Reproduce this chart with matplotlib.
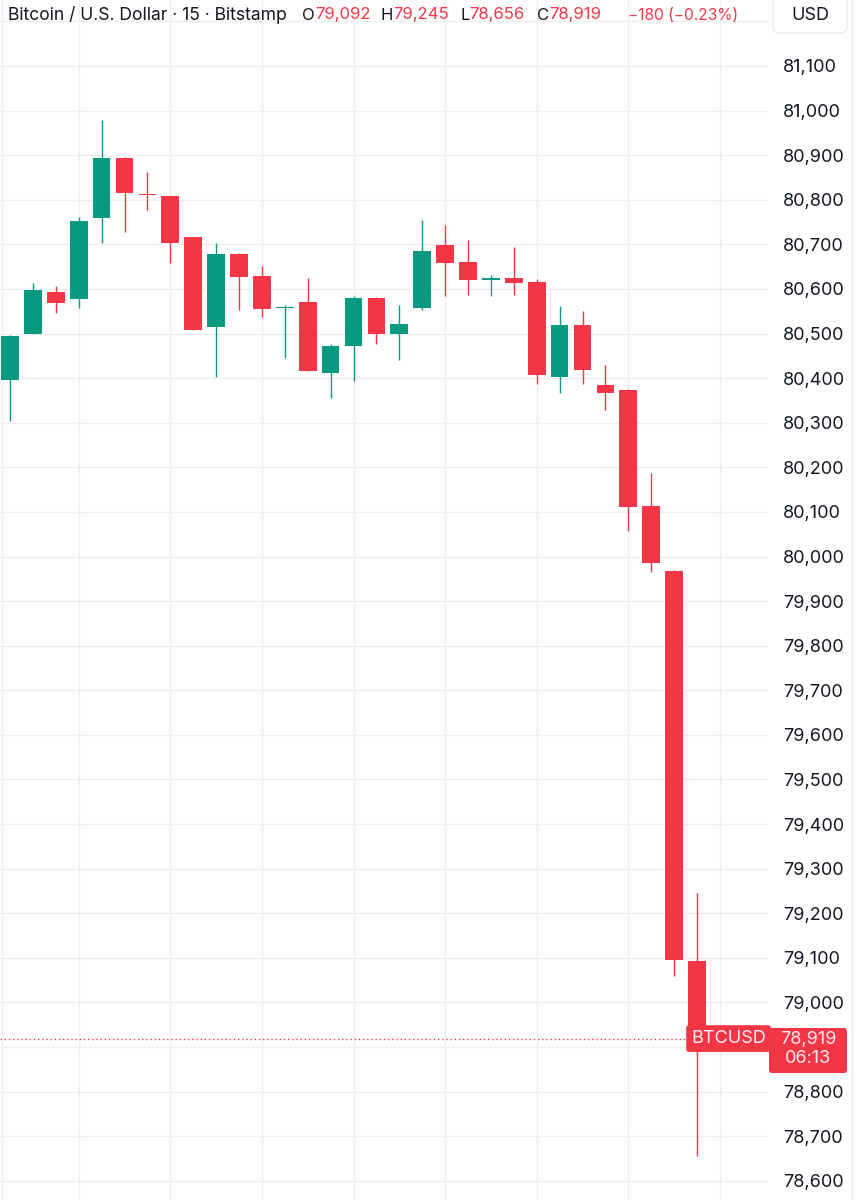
import matplotlib
matplotlib.use('Agg')
import matplotlib.pyplot as plt
from matplotlib.patches import FancyBboxPatch
from matplotlib.lines import Line2D

plt.rcParams['font.family'] = ['Inter', 'DejaVu Sans']

# 15-minute BTC/USD candles (Bitstamp)
opens = [80396, 80498, 80593, 80578, 80760, 80894, 80813, 80809, 80716, 80515,
         80678, 80630, 80557, 80570, 80412, 80471, 80580, 80500, 80558, 80699,
         80660, 80620, 80625, 80615, 80402, 80519, 80384, 80373, 80114, 79967,
         79092]
highs = [80497, 80613, 80607, 80761, 80980, 80897, 80863, 80809, 80716, 80702,
         80680, 80652, 80563, 80625, 80476, 80584, 80583, 80563, 80754, 80743,
         80710, 80632, 80694, 80622, 80562, 80551, 80429, 80375, 80187, 79970,
         79245]
lows = [80304, 80498, 80547, 80558, 80702, 80728, 80776, 80658, 80509, 80402,
        80553, 80538, 80445, 80415, 80356, 80394, 80477, 80440, 80552, 80585,
        80587, 80584, 80587, 80388, 80366, 80388, 80329, 80058, 79966, 79060,
        78656]
closes = [80495, 80598, 80569, 80752, 80894, 80815, 80810, 80704, 80509, 80679,
          80627, 80556, 80559, 80417, 80472, 80580, 80500, 80522, 80685, 80659,
          80620, 80625, 80614, 80407, 80519, 80419, 80367, 80110, 79986, 79095,
          78919]

price_ticks = list(range(78600, 81300, 100))
hidden_ticks = [78900, 81200]   # covered by the price badge / currency box
last_price = 78919
countdown = '06:13'
symbol = 'BTCUSD'
title = 'Bitcoin / U.S. Dollar · 15 · Bitstamp'
ohlc_keys = ['O', 'H', 'L', 'C']
ohlc_vals = ['79,092', '79,245', '78,656', '78,919']
change_txt = '−180 (−0.23%)'

UP = '#089981'
DOWN = '#F23645'
GRID = '#efefef'
TEXT = '#131722'

W, H = 861, 1200
fig = plt.figure(figsize=(W / 100, H / 100), dpi=100)
fig.patch.set_facecolor('white')
ax = fig.add_axes([0, 0, 768 / W, 1])

# candles
for i in range(len(opens)):
    o, h, l, c = opens[i], highs[i], lows[i], closes[i]
    col = UP if c >= o else DOWN
    ax.vlines(i, l, h, color=col, lw=1.0, zorder=2)
    body = max(abs(c - o), 2.5)
    ax.bar(i, body, bottom=min(o, c), width=0.77, color=col, lw=0, zorder=3)

ax.set_xlim(-0.437, 33.1)
ax.set_ylim(78557, 81248)

# grid
ax.set_xticks(range(3, 33, 4))
ax.set_yticks(price_ticks)
ax.set_yticklabels(['' if p in hidden_ticks else f'{p:,}' for p in price_ticks])
ax.grid(True, color=GRID, lw=1.0, zorder=0)
ax.set_axisbelow(True)
ax.tick_params(axis='x', length=0, labelbottom=False)
ax.yaxis.tick_right()
ax.tick_params(axis='y', length=0, pad=11, labelsize=13, labelcolor=TEXT)
for s in ax.spines.values():
    s.set_visible(False)
ax.axvline(-0.35, color=GRID, lw=1.0, zorder=0)

# last price line + symbol tag
ax.axhline(last_price, xmax=0.893, color=DOWN, lw=1.0, ls=(0, (1, 2)), zorder=1)
ax.text(0.9485, last_price, symbol, transform=ax.get_yaxis_transform(),
        ha='center', va='center', fontsize=13, color='#fff0f1', zorder=6,
        bbox=dict(boxstyle='round,pad=0.27,rounding_size=0.15', fc=DOWN, ec='none'))


def px(x, y):
    return x / W, 1 - y / H


# price axis badge
fig.patches.append(FancyBboxPatch(px(769, 1073), 78 / W, 45 / H,
                                  boxstyle='round,pad=0,rounding_size=0.003',
                                  transform=fig.transFigure, fc=DOWN, ec='none', zorder=5))
fig.text(*px(808, 1049), f'{last_price:,}\n{countdown}', ha='center', va='center',
         fontsize=13, color='#ffe8ea', linespacing=1.12, zorder=6)

# right border
fig.lines.append(Line2D([852 / W, 852 / W], [0, 1], transform=fig.transFigure, color='#e6e8ee', lw=1.0))

# currency box
fig.patches.append(FancyBboxPatch(px(773, 33), 74 / W, 40 / H,
                                  boxstyle='round,pad=0,rounding_size=0.006',
                                  transform=fig.transFigure, fc='white', ec='#e8e9ee', lw=1.0, zorder=5))
fig.text(*px(810, 15), 'USD', ha='center', va='center', fontsize=13, color=TEXT, zorder=6)

# header legend, pieces laid out one after another
hy = 15
fs = 12.6
fs_val = 12.0
fig.text(*px(8, hy), title, ha='left', va='center', fontsize=fs, color=TEXT)
renderer = fig.canvas.get_renderer()
key_x = [302, 381, 460, 537]
for x0, k, v in zip(key_x, ohlc_keys, ohlc_vals):
    t = fig.text(*px(x0, hy), k, ha='left', va='center', fontsize=fs_val, color=TEXT)
    bb = t.get_window_extent(renderer)
    fig.text(bb.x1 / W, 1 - hy / H, v, ha='left', va='center', fontsize=fs_val, color=DOWN)
fig.text(*px(628, hy), change_txt, ha='left', va='center', fontsize=11.2, color=DOWN)

fig.savefig('out.png', dpi=100)
